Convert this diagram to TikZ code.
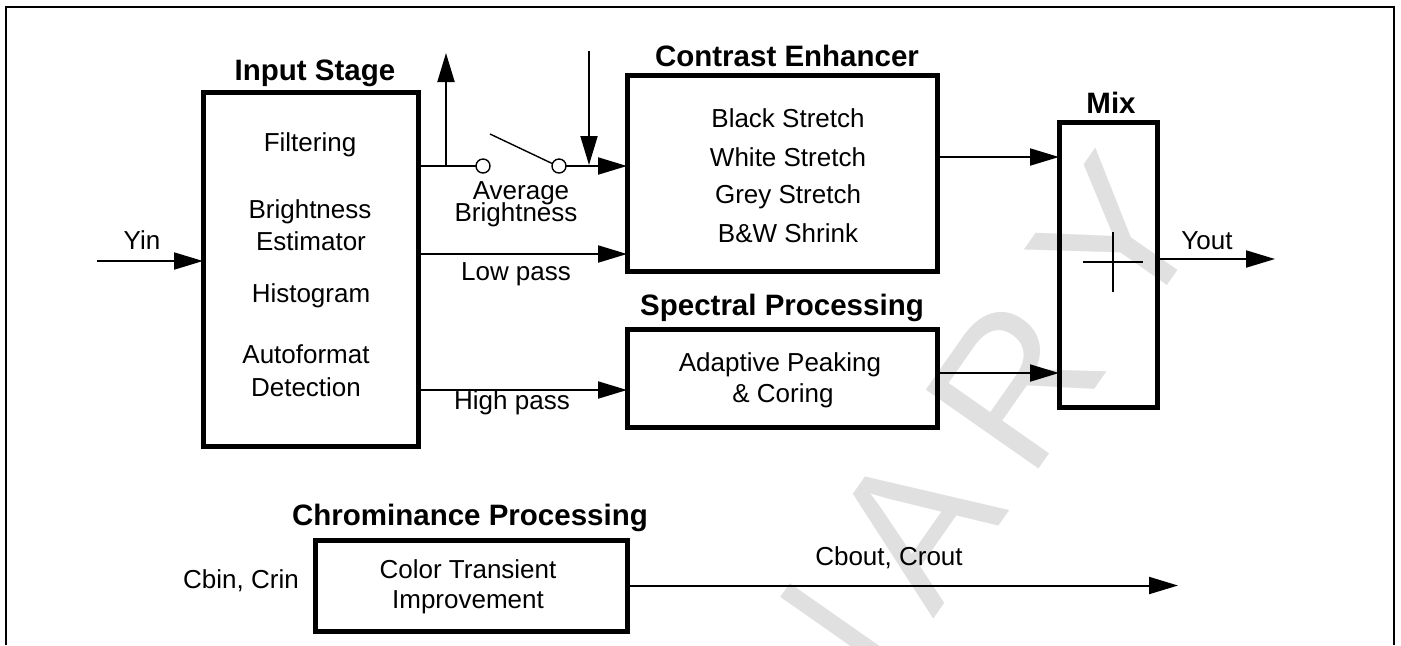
\documentclass[tikz,border=0pt]{standalone}
\usepackage{fontspec}
\setmainfont{Liberation Sans}
\usetikzlibrary{arrows.meta}
\definecolor{wm}{RGB}{224,224,224}
\begin{document}
\begin{tikzpicture}[x=0.5pt,y=-0.5pt,
  box/.style={draw,line width=2.5pt,outer sep=0pt,inner sep=0pt},
  txt/.style={font=\fontsize{13pt}{15pt}\selectfont,anchor=base,inner sep=0pt},
  ttl/.style={font=\fontsize{14.75pt}{17pt}\selectfont\bfseries,anchor=base,inner sep=0pt},
  conn/.style={line width=1pt},
  arr/.style={conn,-{Triangle[length=14.5pt,width=8.5pt]}},
  wmk/.style={font=\fontsize{100pt}{100pt}\selectfont,text=wm,anchor=base,rotate=55,inner sep=0pt},
  sw/.style={circle,draw,fill=white,line width=0.7pt,minimum size=7pt,inner sep=0pt,outer sep=0pt}]
\useasboundingbox (0,0) rectangle (1401,645);
% watermark
\begin{scope}
\clip (0,0) rectangle (1401,645);
\node[wmk] (wY) at (1173,278) {Y};
\node[wmk] (wR) at (1071,423) {R};
\node[wmk] (wA) at (972,565) {A};
\node[wmk] (wN) at (871,708) {N};
\end{scope}
% frame
\draw[line width=1pt] (6,645) -- (6,7) -- (1394,7) -- (1394,645);
% boxes
\node[box,minimum width=107.5pt,minimum height=177pt] (input) at (310.5,269) {};
\node[box,minimum width=155pt,minimum height=98pt] (contrast) at (782,173) {};
\node[box,minimum width=155pt,minimum height=49pt] (spectral) at (782,378) {};
\node[box,minimum width=49.25pt,minimum height=142.75pt] (mix) at (1108.25,264.75) {};
\node[box,minimum width=156pt,minimum height=45.5pt] (chrom) at (471,585.5) {};
% titles
\node[ttl] (tInput) at (315,80) {Input Stage};
\node[ttl] (tCE) at (787,66) {Contrast Enhancer};
\node[ttl] (tMix) at (1111,113) {Mix};
\node[ttl] (tSP) at (782,315) {Spectral Processing};
\node[ttl] (tCP) at (470,525) {Chrominance Processing};
% texts
\node[txt] (tFilt) at (310,151) {Filtering};
\node[txt] (tBr) at (310,218) {Brightness};
\node[txt] (tEst) at (311,250) {Estimator};
\node[txt] (tHist) at (311,302) {Histogram};
\node[txt] (tAuto) at (306,363) {Autoformat};
\node[txt] (tDet) at (306,396) {Detection};
\node[txt] (tYin) at (142,249) {Yin};
\node[txt] (tAvg) at (521,199) {Average};
\node[txt] (tAvgB) at (516,221) {Brightness};
\node[txt] (tLow) at (516,280) {Low pass};
\node[txt] (tHigh) at (512,409) {High pass};
\node[txt] (tBS) at (788,127) {Black Stretch};
\node[txt] (tWS) at (788,166) {White Stretch};
\node[txt] (tGS) at (788,203) {Grey Stretch};
\node[txt] (tBW) at (788,242) {B\&W Shrink};
\node[txt] (tYout) at (1207,249) {Yout};
\node[txt] (tAP) at (780,371) {Adaptive Peaking};
\node[txt] (tCor) at (783,402) {\& Coring};
\node[txt] (tCbin) at (241,588) {Cbin, Crin};
\node[txt] (tCT) at (468,578) {Color Transient};
\node[txt] (tImp) at (468,608) {Improvement};
\node[txt] (tCbout) at (889,565) {Cbout, Crout};
% coordinates
\coordinate (yinS) at (97,261);
\coordinate (j1) at (446,166);
\coordinate (upE) at (446,53);
\coordinate (lev) at (490,134);
\coordinate (dnS) at (589,51);
\coordinate (dnE) at (589,165);
\coordinate (lp) at (418,254);
\coordinate (hp) at (418,390);
\coordinate (cm) at (937,157);
\coordinate (sm) at (937,373);
\coordinate (yo) at (1275,259);
\coordinate (cbo) at (1178,585.5);
% switch
\node[sw] (c1) at (483,166) {};
\node[sw] (c2) at (559,166) {};
% connectors
\draw[arr] (yinS) -- (yinS -| input.west);
\draw[conn] (c1 -| input.east) -- (c1.west);
\draw[arr] (j1) -- (upE);
\draw[conn,line width=0.7pt] (lev) -- (c2.160);
\draw[arr] (c2.east) -- (c2 -| contrast.west);
\draw[arr] (dnS) -- (dnE);
\draw[arr] (lp -| input.east) -- (lp -| contrast.west);
\draw[arr] (hp -| input.east) -- (hp -| spectral.west);
\draw[arr] (cm -| contrast.east) -- (cm -| mix.west);
\draw[arr] (sm -| spectral.east) -- (sm -| mix.west);
\draw[arr] (yo -| mix.east) -- (yo);
\draw[arr] (chrom.east) -- (cbo);
% summing cross
\draw[conn] (1083,262) -- (1143,262);
\draw[conn] (1113,232) -- (1113,292);
\end{tikzpicture}
\end{document}
